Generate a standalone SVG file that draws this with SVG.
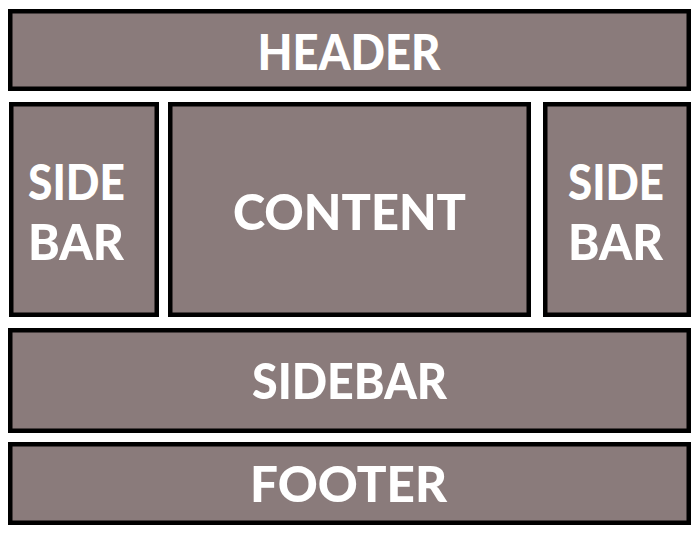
<svg xmlns="http://www.w3.org/2000/svg" width="700" height="536" viewBox="0 0 700 536">
<style>
.box{fill:#8a7b7b;stroke:#000;stroke-width:4.5}
.lbl{fill:#fff;font-family:"Lato","Liberation Sans",sans-serif;font-weight:900;font-size:50px;text-anchor:middle}
</style>
<rect width="700" height="536" fill="#fff"/>
<g id="header"><rect class="box" x="10.25" y="11.25" width="678.5" height="77.5"/><text class="lbl" x="349" y="70" textLength="183" lengthAdjust="spacingAndGlyphs">HEADER</text></g>
<g id="sidebar-left"><rect class="box" x="11.25" y="104.25" width="145.5" height="210.5"/><text class="lbl" x="76.5" y="200" textLength="97" lengthAdjust="spacingAndGlyphs">SIDE</text><text class="lbl" x="76" y="260" textLength="96" lengthAdjust="spacingAndGlyphs">BAR</text></g>
<g id="content"><rect class="box" x="170.25" y="104.25" width="358.5" height="210.5"/><text class="lbl" x="349.5" y="230" textLength="233" lengthAdjust="spacingAndGlyphs">CONTENT</text></g>
<g id="sidebar-right"><rect class="box" x="545.25" y="104.25" width="143.5" height="210.5"/><text class="lbl" x="616" y="200" textLength="96" lengthAdjust="spacingAndGlyphs">SIDE</text><text class="lbl" x="615.5" y="260" textLength="95" lengthAdjust="spacingAndGlyphs">BAR</text></g>
<g id="sidebar-bottom"><rect class="box" x="10.25" y="330.25" width="678.5" height="100.5"/><text class="lbl" x="349.5" y="399" textLength="195" lengthAdjust="spacingAndGlyphs">SIDEBAR</text></g>
<g id="footer"><rect class="box" x="10.25" y="444.25" width="678.5" height="78.5"/><text class="lbl" x="348.5" y="502" textLength="197" lengthAdjust="spacingAndGlyphs">FOOTER</text></g>
<g id="connectors"/>
</svg>
